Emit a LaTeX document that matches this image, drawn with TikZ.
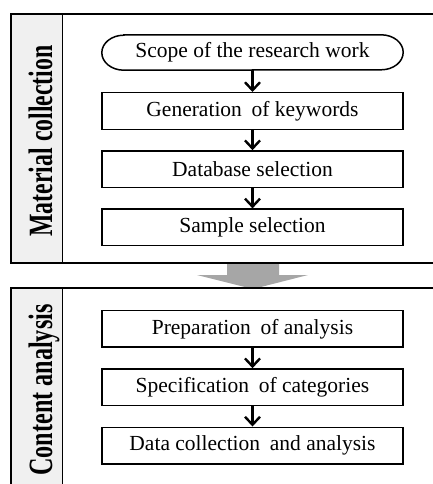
\documentclass[tikz,border=0pt]{standalone}
\usepackage{fontspec}
\setmainfont{Liberation Serif}
\usetikzlibrary{arrows.meta}
\definecolor{stripgray}{RGB}{240,240,240}
\definecolor{bigarrow}{RGB}{166,166,166}
\tikzset{
  panel/.style={draw=black, line width=1.4pt},
  strip/.style={draw=black, line width=1.4pt, fill=stripgray},
  stepbox/.style={draw=black, line width=1.5pt, minimum width=301pt, minimum height=36.5pt, inner sep=0pt, font=\fontsize{21.5}{23}\selectfont},
  termbox/.style={draw=none, minimum width=301pt, minimum height=35pt, inner sep=0pt, font=\fontsize{21.5}{23}\selectfont},
  flow/.style={line width=2.4pt, -{Straight Barb[length=8pt,width=15pt,line width=2.4pt]}},
  sidelabel/.style={rotate=90, anchor=base, inner sep=0pt, font=\fontsize{34}{36}\selectfont\bfseries},
}
\begin{document}
\begin{tikzpicture}[x=1pt, y=-1pt]
\useasboundingbox (0,0) rectangle (432,484);
% big gray arrow between panels
\fill[bigarrow] (227,263) -- (279,263) -- (279,275) -- (308,275) -- (253,289) -- (197,275) -- (227,275) -- cycle;
% panels
\draw[panel] (11,14) rectangle (450,263);
\draw[strip] (11,14) rectangle (62.7,263);
\draw[panel] (11,288) rectangle (450,500);
\draw[strip] (11,288) rectangle (62.7,500);
% side labels
\node[sidelabel] (lab1) at (52,141) {\scalebox{0.7}[1]{Material collection}};
\node[sidelabel] (lab2) at (52,390) {\scalebox{0.71}[1]{Content analysis}};
% top flow
\node[termbox] (scope) at (252.5,52.5) {Scope of the research work};
\draw[line width=1.5pt] ([xshift=22pt]scope.north west) -- ([xshift=-22pt]scope.north east)
  arc[start angle=90, end angle=-90, x radius=22pt, y radius=17.5pt]
  -- ([xshift=22pt]scope.south west)
  arc[start angle=270, end angle=90, x radius=22pt, y radius=17.5pt] -- cycle;
\node[stepbox] (gen) at (252.5,111) {Generation\hspace{0.2em} of keywords};
\node[stepbox] (db) at (252.5,169.2) {Database selection};
\node[stepbox] (sample) at (252.5,227.4) {Sample selection};
\draw[flow] (scope.south) -- (gen.north);
\draw[flow] (gen.south) -- (db.north);
\draw[flow] (db.south) -- (sample.north);
% bottom flow
\node[stepbox] (prep) at (252.5,328.8) {Preparation\hspace{0.2em} of analysis};
\node[stepbox] (spec) at (252.5,387.2) {Specification\hspace{0.2em} of categories};
\node[stepbox] (data) at (252.5,445.5) {Data collection\hspace{0.2em} and analysis};
\draw[flow] (prep.south) -- (spec.north);
\draw[flow] (spec.south) -- (data.north);
\end{tikzpicture}
\end{document}
